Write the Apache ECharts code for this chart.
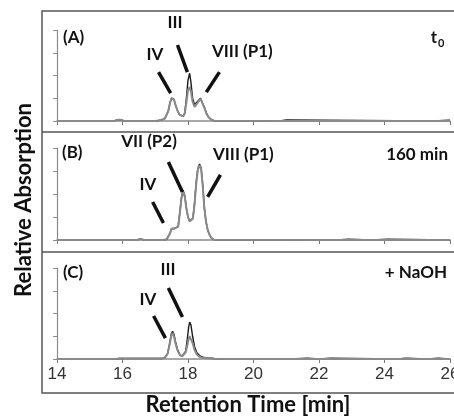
<!DOCTYPE html>
<html>
<head>
<meta charset="utf-8">
<script src="https://cdn.jsdelivr.net/npm/echarts@6/dist/echarts.min.js"></script>
<style>
  html, body { margin: 0; padding: 0; background: #fff; }
  #chart { width: 454px; height: 418px; }
</style>
</head>
<body>
<div id="chart"></div>
<script>
// x axis ticks (retention time, min)
const xTicks = [14, 16, 18, 20, 22, 24, 26];

// (A) t0
const timeA = [14, 15.75, 15.85, 15.95, 16.05, 17.0, 17.1, 17.2, 17.3, 17.35, 17.4, 17.45, 17.5, 17.53, 17.57, 17.62, 17.68, 17.74, 17.8, 17.85, 17.9, 17.95, 18.0, 18.05, 18.09, 18.14, 18.2, 18.26, 18.32, 18.38, 18.43, 18.5, 18.57, 18.64, 18.72, 18.8, 20.8, 20.85, 21.0, 21.05, 25.5, 25.55, 25.95, 26];
const blackA = [0, 0, 0.05, 0.05, 0, 0, 0.02, 0.05, 0.12, 0.2, 0.45, 0.8, 1.0, 1.05, 0.95, 0.7, 0.45, 0.28, 0.2, 0.2, 0.35, 1.0, 1.8, 2.1, 1.7, 1.0, 0.72, 0.72, 0.9, 1.0, 0.92, 0.6, 0.32, 0.15, 0.05, 0.01, 0, 0.05, 0.05, 0, 0, 0.03, 0.03, 0.03];
const grayA = [0, 0, 0.05, 0.05, 0, 0, 0.02, 0.05, 0.12, 0.2, 0.45, 0.8, 1.0, 1.05, 0.95, 0.7, 0.45, 0.28, 0.2, 0.2, 0.33, 0.8, 1.35, 1.5, 1.3, 0.85, 0.62, 0.65, 0.85, 0.98, 0.9, 0.58, 0.3, 0.14, 0.05, 0.01, 0, 0, 0, 0, 0, 0, 0, 0];

// (B) 160 min
const timeB = [14, 16.45, 16.55, 16.65, 17.25, 17.35, 17.4, 17.45, 17.5, 17.55, 17.6, 17.65, 17.7, 17.75, 17.8, 17.85, 17.9, 17.95, 18.0, 18.05, 18.1, 18.15, 18.2, 18.25, 18.3, 18.35, 18.4, 18.45, 18.5, 18.55, 18.6, 18.65, 18.72, 18.8, 22.55, 22.6, 22.9, 22.95, 23.6, 23.65, 24.1, 24.15, 26];
const blackB = [0, 0, 0.05, 0, 0, 0.03, 0.1, 0.3, 0.5, 0.57, 0.5, 0.45, 0.6, 1.2, 1.85, 2.15, 1.95, 1.4, 1.0, 0.82, 0.8, 0.95, 1.6, 2.5, 3.1, 3.3, 3.15, 2.4, 1.4, 0.8, 0.45, 0.25, 0.08, 0.01, 0, 0.03, 0.03, 0, 0, 0.03, 0.03, 0, 0];
const grayB = [0, 0, 0.05, 0, 0, 0.03, 0.1, 0.28, 0.48, 0.55, 0.5, 0.45, 0.58, 1.15, 1.8, 2.1, 1.9, 1.38, 1.0, 0.82, 0.8, 0.93, 1.55, 2.45, 3.05, 3.25, 3.1, 2.35, 1.38, 0.8, 0.45, 0.25, 0.08, 0.01, 0, 0, 0, 0, 0, 0, 0, 0, 0];

// (C) + NaOH
const timeC = [14, 15.8, 15.9, 16.6, 17.2, 17.3, 17.38, 17.44, 17.49, 17.53, 17.57, 17.62, 17.68, 17.75, 17.82, 17.88, 17.93, 17.98, 18.02, 18.05, 18.09, 18.14, 18.2, 18.27, 18.35, 18.45, 18.6, 18.8, 19.0, 21.1, 21.15, 21.65, 21.7, 22.0, 22.05, 22.35, 22.4, 24.4, 24.45, 24.65, 24.7, 25.3, 25.35, 25.65, 25.7, 26];
const blackC = [0, 0, 0.02, 0.02, 0.02, 0.06, 0.25, 0.7, 1.1, 1.22, 1.1, 0.75, 0.42, 0.2, 0.12, 0.15, 0.35, 0.9, 1.4, 1.62, 1.5, 1.0, 0.55, 0.28, 0.15, 0.08, 0.05, 0.02, 0, 0, 0.03, 0.03, 0, 0, 0.03, 0.03, 0, 0, 0.03, 0.03, 0, 0, 0.03, 0.03, 0, 0];
const grayC = [0, 0, 0.02, 0.02, 0.02, 0.06, 0.24, 0.65, 1.02, 1.15, 1.0, 0.68, 0.38, 0.18, 0.11, 0.13, 0.3, 0.6, 0.9, 1.0, 0.95, 0.7, 0.4, 0.2, 0.1, 0.05, 0.03, 0.01, 0, 0, 0, 0, 0, 0, 0, 0, 0, 0, 0, 0, 0, 0, 0, 0, 0, 0];

// leader lines pointing at peaks, in data units [t1, y1, t2, y2]
const leadersA = [[17.10, 2.15, 17.47, 1.23], [17.68, 3.34, 17.98, 2.15], [18.96, 2.15, 18.56, 1.27]];
const leadersB = [[16.92, 1.65, 17.25, 0.74], [17.40, 3.39, 17.83, 2.09], [18.99, 2.83, 18.60, 1.87]];
const leadersC = [[16.95, 1.89, 17.31, 0.92], [17.40, 3.12, 17.83, 1.85]];

const zip = (t, v) => t.map((x, i) => [x, v[i]]);

const chart = echarts.init(document.getElementById('chart'));

const boldFont = 'Lato, "Open Sans", sans-serif';
const grids = [
  { left: 57, right: 4, top: 30, height: 91, outerBoundsMode: 'none' },
  { left: 57, right: 4, top: 148, height: 92, outerBoundsMode: 'none' },
  { left: 57, right: 4, top: 268, height: 91, outerBoundsMode: 'none' }
];

const xAxes = grids.map((g, i) => ({
  type: 'value', gridIndex: i, min: 14, max: 26, interval: 2,
  axisLine: { lineStyle: { color: '#8c8c8c', width: 1.5 } },
  axisTick: { show: true, inside: false, length: 4, lineStyle: { color: '#777' } },
  axisLabel: { show: i === 2, fontFamily: '"Liberation Sans", Arial, sans-serif', fontSize: 17, color: '#333', margin: 7,
    showMaxLabel: true, showMinLabel: true, hideOverlap: false,
    formatter: v => xTicks.includes(v) ? String(v) : '' },
  splitLine: { show: false }
}));

const yAxes = grids.map((g, i) => ({
  type: 'value', gridIndex: i, min: 0, max: 4, interval: 1,
  axisLine: { show: true, lineStyle: { color: '#8c8c8c', width: 1.2 } },
  axisTick: { show: true, inside: false, length: 4, lineStyle: { color: '#8c8c8c' } },
  axisLabel: { show: false },
  splitLine: { show: false }
}));

const leaderLine = list => ({
  silent: true, symbol: 'none', animation: false,
  label: { show: false },
  lineStyle: { color: '#111', width: 3.5, type: 'solid' },
  emphasis: { disabled: true },
  data: list.map(l => [{ coord: [l[0], l[1]] }, { coord: [l[2], l[3]] }])
});

const traces = [[timeA, blackA, grayA, leadersA], [timeB, blackB, grayB, leadersB], [timeC, blackC, grayC, leadersC]];
const series = [];
traces.forEach((tr, i) => {
  series.push({
    type: 'line', xAxisIndex: i, yAxisIndex: i, data: zip(tr[0], tr[1]),
    showSymbol: false, animation: false, lineStyle: { color: '#1a1a1a', width: 1.4 }
  });
  series.push({
    type: 'line', xAxisIndex: i, yAxisIndex: i, data: zip(tr[0], tr[2]),
    showSymbol: false, animation: false, lineStyle: { color: '#8a8a8a', width: 2 },
    markLine: leaderLine(tr[3])
  });
});

const txt = (text, x, y, align, size) => ({
  type: 'text', x: x, y: y, silent: true,
  style: { text: text, fill: '#111', font: 'bold ' + (size || 17) + 'px ' + boldFont, textAlign: align || 'center', textVerticalAlign: 'middle' }
});

chart.setOption({
  backgroundColor: '#fff',
  animation: false,
  grid: grids,
  xAxis: xAxes,
  yAxis: yAxes,
  series: series,
  graphic: [
    { type: 'rect', shape: { x: 42, y: 11, width: 430, height: 382 }, style: { fill: 'none', stroke: '#555', lineWidth: 1.5 }, silent: true },
    { type: 'line', shape: { x1: 42, y1: 132, x2: 460, y2: 132 }, style: { stroke: '#555', lineWidth: 1.5 }, silent: true },
    { type: 'line', shape: { x1: 42, y1: 252, x2: 460, y2: 252 }, style: { stroke: '#555', lineWidth: 1.5 }, silent: true },
    // panel A
    txt('(A)', 63, 38, 'left'),
    txt('III', 175, 23),
    txt('IV', 155, 55),
    txt('VIII (P1)', 212, 52, 'left'),
    txt('t', 437, 38, 'right'),
    txt('0', 438, 43, 'left', 11),
    // panel B
    txt('(B)', 62, 153, 'left'),
    txt('VII (P2)', 149, 142),
    txt('IV', 148, 185),
    txt('VIII (P1)', 213, 155, 'left'),
    txt('160 min', 448, 155, 'right'),
    // panel C
    txt('(C)', 63, 273, 'left'),
    txt('III', 168, 270),
    txt('IV', 148, 300),
    txt('+ NaOH', 447, 273, 'right'),
    // axis titles
    txt('Retention Time [min]', 248, 405, 'center', 22),
    { type: 'text', x: 24, y: 200, rotation: Math.PI / 2, silent: true,
      style: { text: 'Relative Absorption', fill: '#111', font: 'bold 22px ' + boldFont, textAlign: 'center', textVerticalAlign: 'middle' } }
  ]
});
</script>
</body>
</html>
